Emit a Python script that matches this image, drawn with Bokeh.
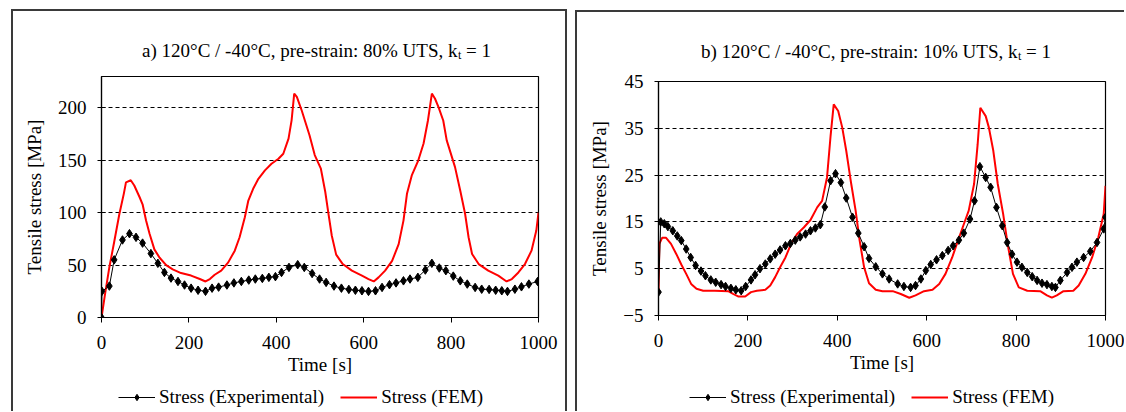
from bokeh.plotting import figure
from bokeh.layouts import row, column
from bokeh.models import Range1d, FixedTicker, Legend, LegendItem, Div, Spacer
from bokeh.core.properties import value
from bokeh.embed import file_html
from bokeh.resources import INLINE

# ---------------- data ----------------
x_ticks = [0, 200, 400, 600, 800, 1000]
y_ticks_a = [0, 50, 100, 150, 200]
y_ticks_b = [-5, 5, 15, 25, 35, 45]

title_a = ["a) 120°C / -40°C, pre-strain: 80% UTS, k", "t", "= 1"]
title_b = ["b) 120°C / -40°C, pre-strain: 10% UTS, k", "t", "= 1"]
x_label = "Time [s]"
y_label = "Tensile stress [MPa]"
legend_exp = "Stress (Experimental)"
legend_fem = "Stress (FEM)"

time_exp_a = [0, 1, 18, 29, 48, 64, 79, 94, 113, 129, 144, 159, 175, 190, 205, 221, 238, 253, 268, 287,
              303, 320, 337, 352, 368, 383, 398, 412, 429, 449, 464, 482, 499, 514, 532, 549, 566, 581, 596, 611,
              627, 642, 659, 674, 691, 706, 724, 741, 756, 773, 788, 805, 821, 837, 855, 870, 887, 902, 916, 929,
              946, 961, 978, 998]
stress_exp_a = [0, 25, 30, 55, 74, 80, 76.5, 71, 61, 51.7, 43, 37.6, 34.4, 31, 28, 26, 25, 28, 29, 31,
                33, 34.4, 35.7, 36.7, 37.3, 38.3, 39, 43, 47.8, 50.4, 47.8, 42, 36.7, 33.5, 30, 28, 26.8, 26, 25.5, 24.9,
                25.5, 28.7, 31.3, 33, 35, 36.7, 38.3, 45.3, 51.7, 47.2, 44.7, 39.5, 35, 31.9, 28.7, 27, 26.8, 26, 25.5, 24.9,
                27, 29.3, 31.9, 34.4]

time_fem_a = [0, 8, 18, 29, 41, 51, 56, 67, 75, 87, 94, 102, 110, 121, 133, 148, 163, 182, 205, 225,
              238, 248, 259, 274, 290, 305, 316, 328, 336, 347, 359, 374, 389, 405, 416, 428, 435, 441, 447, 458,
              476, 488, 502, 512, 519, 527, 537, 552, 573, 596, 611, 623, 634, 649, 665, 680, 691, 699, 710, 725,
              737, 747, 756, 763, 771, 782, 790, 809, 821, 832, 840, 848, 863, 885, 908, 927, 939, 954, 969, 984,
              995, 1000]
stress_fem_a = [0, 22, 48, 72, 99, 118, 129, 131, 126, 115, 108, 92.5, 80, 65, 57, 50, 46, 42.4, 40, 36.7,
                34.4, 36.7, 40.8, 44.7, 52.6, 63.8, 76.6, 95.7, 111.6, 122.8, 132.4, 140.4, 146.7, 151.5, 156.3, 170.7, 188.2, 213.7, 210.5, 197.8,
                174, 155, 142, 120, 100, 78, 60, 51, 44.7, 40, 36.7, 34.4, 38.3, 44.7, 54, 70, 92.5, 118, 135.6, 150,
                166, 188, 213.7, 209, 201, 188, 169, 143.5, 121, 99, 76.6, 60.6, 51, 44.7, 40, 34.4, 36.7, 43, 51, 63.8,
                83, 100]

time_exp_b = [0, 5, 13, 21, 32, 42, 51, 62, 72, 83, 95, 105, 117, 128, 140, 150, 162, 173, 185, 195,
              207, 216, 227, 239, 250, 261, 272, 284, 295, 306, 317, 329, 340, 351, 362, 372, 385, 396, 408, 420,
              434, 447, 460, 471, 486, 501, 516, 535, 549, 564, 575, 587, 598, 609, 622, 635, 648, 659, 672, 683,
              697, 707, 719, 732, 743, 756, 769, 780, 791, 802, 813, 825, 836, 847, 858, 869, 880, 888, 899, 914,
              925, 936, 951, 966, 981, 996, 1000]
stress_exp_b = [0, 15, 14.6, 14, 13.1, 12, 11, 9.2, 7.4, 5.7, 4.5, 3.5, 2.6, 2.1, 1.6, 1.2, 0.8, 0.5, 0.3, 1.2,
                2.6, 3.7, 5, 6, 7.1, 8.1, 9, 9.9, 10.4, 11.1, 11.8, 12.4, 13.1, 13.7, 14.4, 18.2, 23.8, 25.3, 23.4, 20.1,
                16, 12.6, 9.7, 7.2, 5.4, 3.9, 2.8, 1.75, 1.2, 1.0, 1.4, 2.8, 4.6, 5.9, 6.9, 7.8, 8.9, 9.9, 11.1, 12.6,
                15.6, 19.5, 26.8, 24.5, 22.4, 18.1, 14.2, 10.6, 8.1, 6.4, 5.3, 4.2, 3.3, 2.5, 1.9, 1.6, 1.2, 1.0, 2.5, 4.2,
                5.3, 6.4, 7.4, 8.7, 10.6, 13.5, 16]

time_fem_b = [0, 2, 8, 17, 28, 40, 51, 62, 73, 85, 100, 126, 156, 167, 179, 194, 207, 220, 239, 250,
              261, 272, 284, 297, 310, 325, 340, 355, 366, 377, 385, 392, 402, 411, 420, 430, 441, 450, 460, 471,
              486, 501, 524, 542, 561, 575, 594, 613, 628, 642, 657, 670, 683, 694, 706, 714, 720, 732, 739, 749,
              759, 771, 781, 793, 806, 825, 854, 869, 880, 891, 906, 928, 940, 955, 970, 984, 996, 1000]
stress_fem_b = [0, 10.3, 11.6, 11.6, 10.3, 8.1, 5.9, 3.9, 1.75, 0.7, 0.3, 0.3, 0.2, -0.4, -0.95, -0.95, 0, 0.3, 0.5, 1.4,
                3.2, 5.3, 7.4, 10.4, 12.4, 13.8, 15.4, 18.1, 19.5, 24.5, 33.4, 40.1, 38.7, 35.2, 30.2, 23.8, 17.4, 11, 5.3, 1.9,
                0.5, 0.2, 0.2, -0.4, -1.2, -0.7, 0.2, 0.5, 1.75, 3.9, 7.4, 11, 14.5, 17.4, 23.1, 31.6, 39.4, 37.6, 35.2, 30.2,
                23.1, 16.7, 10.3, 3.9, 1, 0.3, 0.2, -0.7, -1.2, -0.7, 0.2, 0.3, 1.4, 3.9, 7.4, 11.7, 16.7, 22.7]

# ---------------- styling / layout ----------------
FONT = "Liberation Serif"
FS = "19px"
BAR = {"background-color": "#3a3a3a"}
EXP_LINE = dict(line_color="black", line_width=1)
EXP_MARK = dict(marker="diamond", size=8.5, fill_color="black", line_color="black")
FEM_LINE = dict(line_color="#ff0000", line_width=2)
NAN = float("nan")


def blank(W, H, fl, fr):
    q = figure(width=W, height=H, output_backend="svg", toolbar_location=None,
               x_axis_type=None, y_axis_type=None,
               x_range=Range1d(0, W - fl - fr), y_range=Range1d(H, 0),
               min_border_left=fl, min_border_right=fr, min_border_top=0, min_border_bottom=0,
               background_fill_color="white", border_fill_color="white", outline_line_color=None)
    q.grid.visible = False
    return q


def title_fig(W, H, fl, fr, parts, center, baseline):
    q = blank(W, H, fl, fr)
    X = center + 141
    q.text(x=[X], y=[baseline], text=[parts[0]], text_align="right", text_baseline="alphabetic",
           text_font=value(FONT), text_font_size=value(FS), text_color="black")
    q.text(x=[X + 0.5], y=[baseline + 4], text=[parts[1]], text_align="left", text_baseline="alphabetic",
           text_font=value(FONT), text_font_size=value("12px"), text_color="black")
    q.text(x=[X + 8.5], y=[baseline], text=[parts[2]], text_align="left", text_baseline="alphabetic",
           text_font=value(FONT), text_font_size=value(FS), text_color="black")
    return q


def legend_fig(W, H, fl, fr, lx, ly):
    q = blank(W, H, fl, fr)
    # helper renderers only provide the legend swatches (nothing is drawn in the frame)
    a = q.line(x=[NAN], y=[NAN], **EXP_LINE)
    b = q.scatter(x=[NAN], y=[NAN], **EXP_MARK)
    c = q.line(x=[NAN], y=[NAN], **FEM_LINE)
    leg = Legend(items=[LegendItem(label=legend_exp, renderers=[a, b]),
                        LegendItem(label=legend_fem, renderers=[c])],
                 location=(lx, ly), orientation="horizontal",
                 border_line_alpha=0, background_fill_alpha=0, padding=0, margin=0,
                 spacing=16, glyph_width=37, glyph_height=16, label_standoff=4, label_height=20,
                 label_text_font=FONT, label_text_font_size=FS, label_text_color="black")
    q.add_layout(leg)
    return q


def chart(W, H, fl, fr, ft, fb, y0, y1, yticks, t_exp, v_exp, t_fem, v_fem):
    p = figure(width=W, height=H, output_backend="svg", toolbar_location=None,
               x_range=Range1d(0, 1000), y_range=Range1d(y0, y1),
               min_border_left=fl, min_border_right=fr, min_border_top=ft, min_border_bottom=fb,
               background_fill_color="white", border_fill_color="white")
    p.outline_line_color = "black"
    p.outline_line_width = 1.2

    p.xaxis.ticker = FixedTicker(ticks=x_ticks)
    p.yaxis.ticker = FixedTicker(ticks=yticks)
    p.xgrid.visible = False
    p.ygrid.ticker = FixedTicker(ticks=[t for t in yticks if y0 < t < y1])
    p.ygrid.grid_line_color = "black"
    p.ygrid.grid_line_dash = "4 3"
    p.ygrid.grid_line_width = 1

    for ax in (p.xaxis[0], p.yaxis[0]):
        ax.axis_line_color = "black"
        ax.axis_line_width = 1.2
        ax.major_tick_line_color = "black"
        ax.minor_tick_line_color = None
        ax.major_label_text_font = FONT
        ax.major_label_text_font_size = FS
        ax.major_label_text_color = "black"
        ax.axis_label_text_font = FONT
        ax.axis_label_text_font_size = FS
        ax.axis_label_text_font_style = "normal"
        ax.axis_label_text_color = "black"
    p.xaxis.major_tick_in = 0
    p.xaxis.major_tick_out = 5
    p.xaxis.major_label_standoff = 13
    p.xaxis.axis_label = x_label
    p.xaxis.axis_label_standoff = 2
    p.yaxis.major_tick_in = 4
    p.yaxis.major_tick_out = 4
    p.yaxis.major_label_standoff = 11
    p.yaxis.axis_label = y_label
    p.yaxis.axis_label_standoff = 10

    p.line(t_fem, v_fem, **FEM_LINE)
    p.line(t_exp, v_exp, **EXP_LINE)
    p.scatter(t_exp, v_exp, **EXP_MARK)
    return p


def bar(w, h):
    return Div(text="", width=w, height=h, margin=0, styles=BAR)


# left panel: canvas x 13..565, frame x 101..538, frame y 76..317
WA, FLA, FRA = 552, 88, 27
ta = title_fig(WA, 50, FLA, FRA, title_a, 215, 39)
ca = chart(WA, 322, FLA, FRA, 15, 66, 0, 230, y_ticks_a, time_exp_a, stress_exp_a, time_fem_a, stress_fem_a)
la = legend_fig(WA, 28, FLA, FRA, 17, 3)

# right panel: canvas x 577..1124, frame x 658..1105, frame y 81..315
WB, FLB, FRB = 547, 81, 19
tb = title_fig(WB, 50, FLB, FRB, title_b, 218, 39)
cb = chart(WB, 315, FLB, FRB, 15, 66, -5, 45, y_ticks_b, time_exp_b, stress_exp_b, time_fem_b, stress_fem_b)
lb = legend_fig(WB, 28, FLB, FRB, 31, 3)

left_col = column(Spacer(height=9), bar(556, 2),
                  row(bar(2, 400), column(ta, ca, la), bar(2, 400)))
right_col = column(Spacer(height=10), bar(549, 2),
                   row(bar(2, 399), column(tb, Spacer(height=4), cb, Spacer(height=2), lb)))
layout = row(Spacer(width=11), left_col, Spacer(width=8), right_col)

open("out.html", "w").write(file_html(layout, INLINE))
